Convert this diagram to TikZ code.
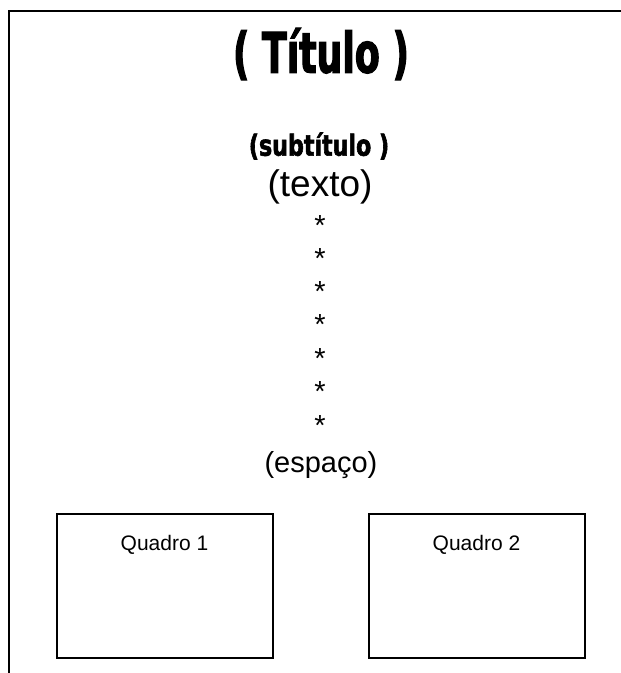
\documentclass[tikz,border=0pt]{standalone}
\usepackage{fontspec}
\setmainfont{Liberation Sans}
\newfontfamily\titlefont[FakeStretch=0.72,FakeBold=2]{DejaVu Sans Condensed}
\newfontfamily\subtitlefont[FakeStretch=0.85,FakeBold=2]{DejaVu Sans Condensed}
\usetikzlibrary{positioning}

\tikzset{
  titulo/.style={inner sep=0pt, font=\titlefont\bfseries\fontsize{56}{60}\selectfont},
  subtitulo/.style={inner sep=0pt, font=\subtitlefont\bfseries\fontsize{29}{32}\selectfont},
  texto/.style={inner sep=0pt, font=\fontsize{37}{40}\selectfont},
  linha/.style={inner sep=0pt, anchor=base, font=\fontsize{29}{33}\selectfont},
  quadro/.style={draw, line width=2pt, minimum width=216pt, minimum height=144pt, inner sep=0pt},
  quadrotexto/.style={inner sep=0pt, anchor=base, font=\fontsize{21}{24}\selectfont}
}

\begin{document}
\begin{tikzpicture}[x=1pt,y=-1pt]
            \useasboundingbox (0,0) rectangle (621,673);

            % Page frame (top and left only)
            \draw[line width=2pt] (621,11) -- (9,11) -- (9,673);

            % Title and subtitle
            \node[titulo] (titulo) at (321,54) {( Título )};
            \node[subtitulo] (subtitulo) at (319,146) {(subtítulo )};
            \node[texto] (texto) at (320,187) {(texto)};

            % The column of stars
            \node[linha] (star1) at (320,235) {*};
            \node[linha] (star2) at (320,268) {*};
            \node[linha] (star3) at (320,301) {*};
            \node[linha] (star4) at (320,334) {*};
            \node[linha] (star5) at (320,368) {*};
            \node[linha] (star6) at (320,401) {*};
            \node[linha] (star7) at (320,435) {*};

            \node[inner sep=0pt, font=\fontsize{29}{33}\selectfont] (espaco) at (321,465) {(espaço)};

            % The two frames
            \node[quadro] (quadro1) at (164.5,586) {};
            \node[quadro] (quadro2) at (476.5,586) {};
            \node[quadrotexto] (quadro1txt) at (164.5,550) {Quadro 1};
            \node[quadrotexto] (quadro2txt) at (476.5,550) {Quadro 2};
        \end{tikzpicture}
\end{document}
